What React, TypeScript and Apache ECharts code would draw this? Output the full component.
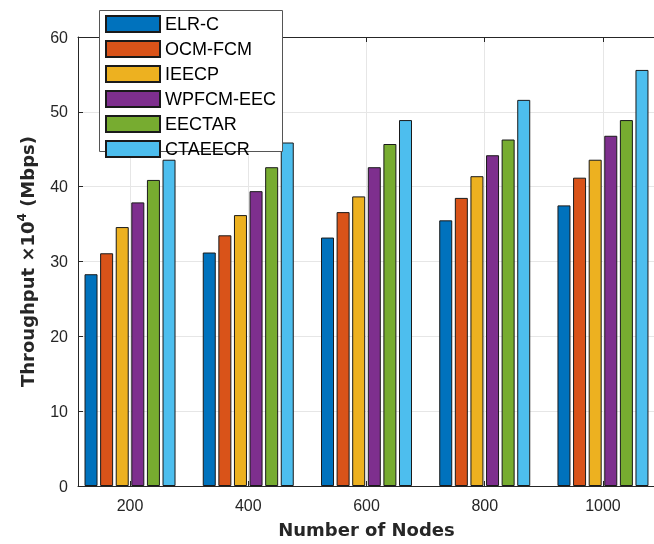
import React, { useEffect, useRef } from "react";
import * as echarts from "echarts";

const nodes = [200, 400, 600, 800, 1000];
const seriesNames = ["ELR-C", "OCM-FCM", "IEECP", "WPFCM-EEC", "EECTAR", "CTAEECR"];
const colors = ["#0072BD", "#D95319", "#EDB120", "#7E2F8E", "#77AC30", "#4DBEEE"];
const elrC = [28.3, 31.2, 33.2, 35.5, 37.5];
const ocmFcm = [31.1, 33.5, 36.6, 38.5, 41.2];
const ieecp = [34.6, 36.2, 38.7, 41.4, 43.6];
const wpfcmEec = [37.9, 39.4, 42.6, 44.2, 46.8];
const eectar = [40.9, 42.6, 45.7, 46.3, 48.9];
const ctaeecr = [43.6, 45.9, 48.9, 51.6, 55.6];

const allValues = [elrC, ocmFcm, ieecp, wpfcmEec, eectar, ctaeecr];

export default function App() {
  const ref = useRef<HTMLDivElement>(null);
  useEffect(() => {
    if (!ref.current) return;
    const chart = echarts.init(ref.current, null, { renderer: "svg" });
    const axisColor = "#262626";
    const font = "'Liberation Sans', Arial, Helvetica, sans-serif";
    const titleFont = "'DejaVu Sans', 'Liberation Sans', sans-serif";
    chart.setOption({
      animation: false,
      textStyle: { fontFamily: font },
      grid: { left: 78, top: 37, right: -1, bottom: 58, containLabel: false, outerBoundsMode: "none" },
      legend: {
        orient: "vertical",
        left: 105,
        top: 15,
        padding: 0,
        itemWidth: 54,
        itemHeight: 16,
        itemGap: 7,
        icon: "rect",
        data: seriesNames,
        textStyle: { fontSize: 18, color: "#000", fontFamily: font },
        z: 5,
      },
      graphic: [
        {
          type: "rect",
          z: 4,
          shape: { x: 99.5, y: 10.5, width: 183, height: 141 },
          style: { fill: "#fff", stroke: "#555", lineWidth: 1 },
        },
      ],
      xAxis: [
        {
          type: "value",
          min: 112,
          max: 1088,
          position: "bottom",
          name: "Number of Nodes",
          nameLocation: "middle",
          nameGap: 34,
          nameTextStyle: { fontSize: 18, fontWeight: "bold", color: axisColor, fontFamily: titleFont },
          axisLine: { show: true, onZero: false, lineStyle: { color: axisColor, width: 1 } },
          axisTick: { show: true, inside: true, length: 5, customValues: nodes, lineStyle: { color: axisColor } },
          axisLabel: {
            customValues: nodes,
            fontSize: 16,
            color: axisColor,
            margin: 11,
            fontFamily: font,
            formatter: (v: number) => String(v),
          },
          splitLine: { show: true, lineStyle: { color: "#e6e6e6", width: 1 } },
        },
        {
          type: "value",
          min: 112,
          max: 1088,
          position: "top",
          axisLine: { show: true, onZero: false, lineStyle: { color: axisColor, width: 1 } },
          axisTick: { show: true, inside: true, length: 5, customValues: nodes, lineStyle: { color: axisColor } },
          axisLabel: { show: false },
          splitLine: { show: false },
        },
      ],
      yAxis: {
        type: "value",
        min: 0,
        max: 60,
        interval: 10,
        name: "Throughput ×10{sup|4} (Mbps)",
        nameLocation: "middle",
        nameGap: 40,
        nameRotate: 90,
        nameTextStyle: {
          fontSize: 18,
          fontWeight: "bold",
          color: axisColor,
          fontFamily: titleFont,
          rich: {
            sup: { fontSize: 12, fontWeight: "bold", color: axisColor, fontFamily: titleFont, padding: [0, 0, 10, 0] },
          },
        },
        axisLine: { show: true, lineStyle: { color: axisColor, width: 1 } },
        axisTick: { show: true, inside: true, length: 5, lineStyle: { color: axisColor } },
        axisLabel: { fontSize: 16, color: axisColor, margin: 10, fontFamily: font },
        splitLine: { show: true, lineStyle: { color: "#e6e6e6", width: 1 } },
      },
      series: seriesNames.map((name, i) => ({
        name,
        type: "bar",
        xAxisIndex: 0,
        barWidth: 13,
        barGap: "20%",
        itemStyle: { color: colors[i], borderColor: "#1a1a1a", borderWidth: 1 },
        data: nodes.map((n, j) => [n, allValues[i][j]]),
      })),
    });
    return () => chart.dispose();
  }, []);
  return <div ref={ref} style={{ position: "fixed", left: 0, top: 0, width: 654, height: 544 }} />;
}
